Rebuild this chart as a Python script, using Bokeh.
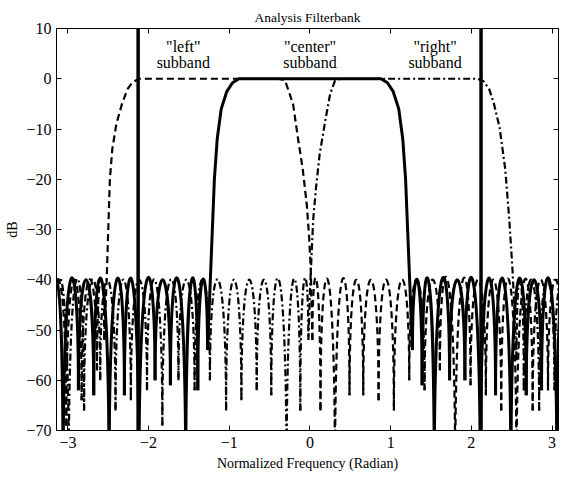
import numpy as np
from bokeh.plotting import figure
from bokeh.models import Range1d, LinearAxis, FixedTicker, Span, ColumnDataSource
from bokeh.core.properties import value
from bokeh.embed import file_html
from bokeh.resources import INLINE

# ---------------- data ----------------
x_ticks = [-3, -2, -1, 0, 1, 2, 3]
x_tick_labels = ["\u22123", "\u22122", "\u22121", "0", "1", "2", "3"]
y_ticks = [10, 0, -10, -20, -30, -40, -50, -60, -70]
y_tick_labels = ["10", "0", "\u221210", "\u221220", "\u221230", "\u221240",
                 "\u221250", "\u221260", "\u221270"]
x_limits = [-3.1416, 3.08]
y_limits = [-70, 10]

sidelobe_peak_db = -40

# "center" subband (solid): passband + transitions
center_band_x = [-1.27, -1.235, -1.21, -1.185, -1.15, -1.10, -1.03, -0.96, -0.88,
                 0.88, 0.96, 1.03, 1.10, 1.15, 1.185, 1.21, 1.235, 1.27]
center_band_db = [-54, -40, -30, -20, -12, -6, -2.5, -0.8, 0,
                  0, -0.8, -2.5, -6, -12, -20, -30, -40, -54]
# stopband nulls (x, depth)
center_null_lo_x = [-3.22, -3.06, -2.87, -2.68, -2.49, -2.30, -2.12, -1.92, -1.73, -1.54, -1.39, -1.27]
center_null_lo_db = [-80, -80, -62, -63, -80, -63, -80, -60, -61, -80, -62, -54]
center_null_hi_x = [1.27, 1.39, 1.54, 1.73, 1.92, 2.11, 2.30, 2.49, 2.68, 2.87, 3.06, 3.22]
center_null_hi_db = [-54, -61, -80, -60, -60, -80, -63, -80, -63, -62, -80, -80]

# "left" subband (dashed)
left_band_x = [-2.55, -2.52, -2.50, -2.48, -2.45, -2.40, -2.33, -2.26, -2.20, -2.12,
               -0.40, -0.31, -0.21, -0.15, -0.09, -0.04, -0.01, 0.01, 0.03]
left_band_db = [-52, -40, -30, -20, -14, -9, -5, -2, -0.7, 0,
                0, -0.3, -5, -11.7, -18, -25, -31.6, -38, -52]
left_null_lo_x = [-3.21, -3.02, -2.83, -2.64, -2.55]
left_null_lo_db = [-62, -69, -64, -58, -52]
left_null_hi_x = [0.03, 0.13, 0.31, 0.49, 0.66, 0.85, 1.04, 1.23, 1.42, 1.61, 1.80,
                  1.99, 2.18, 2.37, 2.56, 2.76, 2.95, 3.14, 3.33]
left_null_hi_db = [-52, -66, -80, -63, -63, -64, -66, -60, -62, -58, -80,
                   -61, -63, -66, -80, -66, -62, -64, -69]

# "right" subband (dash-dot)
right_band_x = [-0.02, 0.0, 0.02, 0.04, 0.075, 0.12, 0.19, 0.25, 0.31, 0.38,
                2.08, 2.15, 2.22, 2.28, 2.35, 2.42, 2.47, 2.51, 2.54, 2.56]
right_band_db = [-52, -42, -35, -28, -21.6, -15, -8.3, -3, -0.4, 0,
                 0, -0.5, -2, -5, -9.7, -18, -28, -38, -48, -56]
right_null_lo_x = [-3.18, -2.99, -2.80, -2.60, -2.41, -2.22, -2.02, -1.83, -1.63,
                   -1.43, -1.24, -1.04, -0.85, -0.66, -0.48, -0.29, -0.12, -0.02]
right_null_lo_db = [-62, -80, -66, -60, -66, -64, -62, -69, -60,
                    -62, -60, -66, -64, -62, -63, -80, -66, -52]
right_null_hi_x = [2.56, 2.65, 2.84, 3.03, 3.22]
right_null_hi_db = [-56, -62, -66, -62, -66]

# subband boundaries
boundary_x = [-2.13, 2.12]

# annotations
label_x = [-1.57, 0.0, 1.55]
label_top = ['"left"', '"center"', '"right"']
label_bottom = ["subband", "subband", "subband"]
label_top_db = 6.4
label_bottom_db = 3.3

# ---------------- figure ----------------
FONT = "Liberation Serif"

p = figure(width=562, height=480, output_backend="svg", toolbar_location=None,
           x_range=Range1d(*x_limits), y_range=Range1d(*y_limits),
           min_border_left=56, min_border_right=4, min_border_top=28,
           min_border_bottom=50, background_fill_color="white",
           border_fill_color="white")
p.grid.visible = False
p.outline_line_color = "black"
p.outline_line_width = 1

p.title.text = "Analysis Filterbank"
p.title.align = "center"
p.title.text_font = FONT
p.title.text_font_style = "normal"
p.title.text_font_size = "13.5px"
p.title.text_color = "black"
p.title.standoff = 8
p.title.offset = 0


def style_axis(ax, labels=True):
    ax.axis_line_color = "black"
    ax.major_tick_in = 5
    ax.major_tick_out = 0
    ax.minor_tick_line_color = None
    ax.major_tick_line_color = "black"
    if labels:
        ax.major_label_text_font = FONT
        ax.major_label_text_font_size = "16px"
        ax.major_label_text_color = "black"
        ax.axis_label_text_font = FONT
        ax.axis_label_text_font_style = "normal"
        ax.axis_label_text_font_size = "14px"
        ax.axis_label_text_color = "black"
    else:
        ax.major_label_text_font_size = "1px"
        ax.major_label_text_color = None
        ax.major_label_standoff = 0


xax = p.xaxis[0]
xax.ticker = FixedTicker(ticks=x_ticks)
xax.major_label_overrides = dict(zip(x_ticks, x_tick_labels))
xax.axis_label = "Normalized Frequency (Radian)"
style_axis(xax)
xax.major_label_standoff = 6
xax.axis_label_standoff = 5

yax = p.yaxis[0]
yax.ticker = FixedTicker(ticks=y_ticks)
yax.major_label_overrides = dict(zip(y_ticks, y_tick_labels))
yax.axis_label = "dB"
style_axis(yax)
yax.major_label_standoff = 5
yax.axis_label_standoff = 3

top_ax = LinearAxis(ticker=FixedTicker(ticks=x_ticks))
style_axis(top_ax, labels=False)
p.add_layout(top_ax, "above")
right_ax = LinearAxis(ticker=FixedTicker(ticks=y_ticks))
style_axis(right_ax, labels=False)
p.add_layout(right_ax, "right")


def lobe_source(nx, nd):
    nx = np.asarray(nx, float)
    nd = np.asarray(nd, float)
    x0, x1, y0, y1 = nx[:-1], nx[1:], nd[:-1], nd[1:]
    c = (8 * sidelobe_peak_db - y0 - y1) / 6.0
    return ColumnDataSource(dict(x0=x0, y0=y0, x1=x1, y1=y1,
                                 cx0=x0, cy0=c, cx1=x1, cy1=c))


def draw_filter(band_x, band_db, nulls, **style):
    p.line(band_x, band_db, line_join="round", **style)
    for nx, nd in nulls:
        p.bezier(x0="x0", y0="y0", x1="x1", y1="y1", cx0="cx0", cy0="cy0",
                 cx1="cx1", cy1="cy1", source=lobe_source(nx, nd), **style)


draw_filter(left_band_x, left_band_db,
            [(left_null_lo_x, left_null_lo_db), (left_null_hi_x, left_null_hi_db)],
            line_color="black", line_width=2.2, line_dash="7 4")
draw_filter(right_band_x, right_band_db,
            [(right_null_lo_x, right_null_lo_db), (right_null_hi_x, right_null_hi_db)],
            line_color="black", line_width=2.2, line_dash="7 3 2 3")
draw_filter(center_band_x, center_band_db,
            [(center_null_lo_x, center_null_lo_db), (center_null_hi_x, center_null_hi_db)],
            line_color="black", line_width=3.0)

for bx in boundary_x:
    p.add_layout(Span(location=bx, dimension="height", line_color="black",
                      line_width=3.5))

p.text(x=label_x, y=[label_top_db] * len(label_x), text=label_top,
       text_font=value(FONT), text_font_size="16px", text_align="center",
       text_baseline="middle", text_color="black")
p.text(x=label_x, y=[label_bottom_db] * len(label_x), text=label_bottom,
       text_font=value(FONT), text_font_size="16px", text_align="center",
       text_baseline="middle", text_color="black")

open("out.html", "w").write(file_html(p, INLINE))
